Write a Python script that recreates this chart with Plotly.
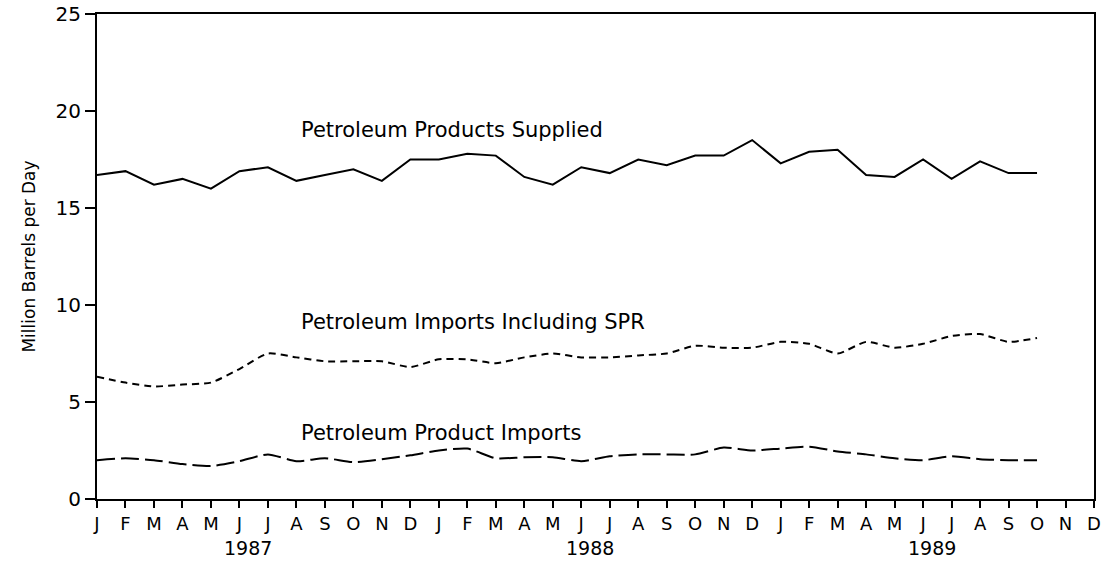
import plotly.graph_objects as go

# month tick labels, Jan 1987 .. Dec 1989
months = ["J", "F", "M", "A", "M", "J", "J", "A", "S", "O", "N", "D"] * 3
years = ["1987", "1988", "1989"]

# monthly values, Jan 1987 .. Oct 1989 (million barrels per day)
products_supplied = [16.7, 16.9, 16.2, 16.5, 16.0, 16.9, 17.1, 16.4, 16.7, 17.0, 16.4, 17.5,
                     17.5, 17.8, 17.7, 16.6, 16.2, 17.1, 16.8, 17.5, 17.2, 17.7, 17.7, 18.5,
                     17.3, 17.9, 18.0, 16.7, 16.6, 17.5, 16.5, 17.4, 16.8, 16.8]
imports_incl_spr = [6.3, 6.0, 5.8, 5.9, 6.0, 6.7, 7.5, 7.3, 7.1, 7.1, 7.1, 6.8,
                    7.2, 7.2, 7.0, 7.3, 7.5, 7.3, 7.3, 7.4, 7.5, 7.9, 7.8, 7.8,
                    8.1, 8.0, 7.5, 8.1, 7.8, 8.0, 8.4, 8.5, 8.1, 8.3]
product_imports = [2.0, 2.1, 2.0, 1.8, 1.7, 1.95, 2.3, 1.95, 2.1, 1.9, 2.05, 2.25,
                   2.5, 2.6, 2.1, 2.15, 2.15, 1.95, 2.2, 2.3, 2.3, 2.3, 2.65, 2.5,
                   2.6, 2.7, 2.45, 2.3, 2.1, 2.0, 2.2, 2.05, 2.0, 2.0]

x = list(range(len(products_supplied)))
font = "DejaVu Sans"

fig = go.Figure()
fig.add_trace(go.Scatter(x=x, y=products_supplied, mode="lines",
                         line=dict(color="black", width=2)))
fig.add_trace(go.Scatter(x=x, y=imports_incl_spr, mode="lines",
                         line=dict(color="black", width=2, dash="7px,5px",
                                   shape="spline", smoothing=0.6)))
fig.add_trace(go.Scatter(x=x, y=product_imports, mode="lines",
                         line=dict(color="black", width=2, dash="18px,6px",
                                   shape="spline", smoothing=0.6)))

# series labels
labels = [("Petroleum Products Supplied", 19.0),
          ("Petroleum Imports Including SPR", 9.1),
          ("Petroleum Product Imports", 3.4)]
for text, yv in labels:
    fig.add_annotation(x=7.1, y=yv, text=text, showarrow=False, xanchor="left",
                       font=dict(family=font, size=21, color="black"))

# year labels under the month ticks
for i, yr in enumerate(years):
    fig.add_annotation(x=5.3 + 12 * i, y=0, yref="paper", yshift=-49, yanchor="middle",
                       text=yr, showarrow=False,
                       font=dict(family=font, size=19, color="black"))

fig.update_xaxes(range=[0, 35], tickmode="array", tickvals=list(range(36)), ticktext=months,
                 ticks="outside", ticklen=7, tickwidth=1.5, tickcolor="black",
                 showline=True, linecolor="black", linewidth=2, mirror=True,
                 showgrid=False, zeroline=False, automargin=False,
                 ticklabeloverflow="allow",
                 tickfont=dict(family=font, size=18, color="black"))
fig.update_yaxes(range=[0, 25], tickvals=[0, 5, 10, 15, 20, 25],
                 ticks="outside", ticklen=10, tickwidth=1.5, tickcolor="black",
                 showline=True, linecolor="black", linewidth=2, mirror=True,
                 showgrid=False, zeroline=False, automargin=False,
                 ticklabeloverflow="allow",
                 tickfont=dict(family=font, size=20, color="black"),
                 title=dict(text="Million Barrels per Day", standoff=16,
                            font=dict(family=font, size=17, color="black")))

fig.update_layout(width=1109, height=566, showlegend=False,
                  plot_bgcolor="white", paper_bgcolor="white",
                  margin=dict(l=97, r=15, t=14, b=67))

# drop the default 8px page margin so the figure fills the window
fig.write_html("out.html", config={"displayModeBar": False},
               post_script="document.body.style.margin = '0';")
